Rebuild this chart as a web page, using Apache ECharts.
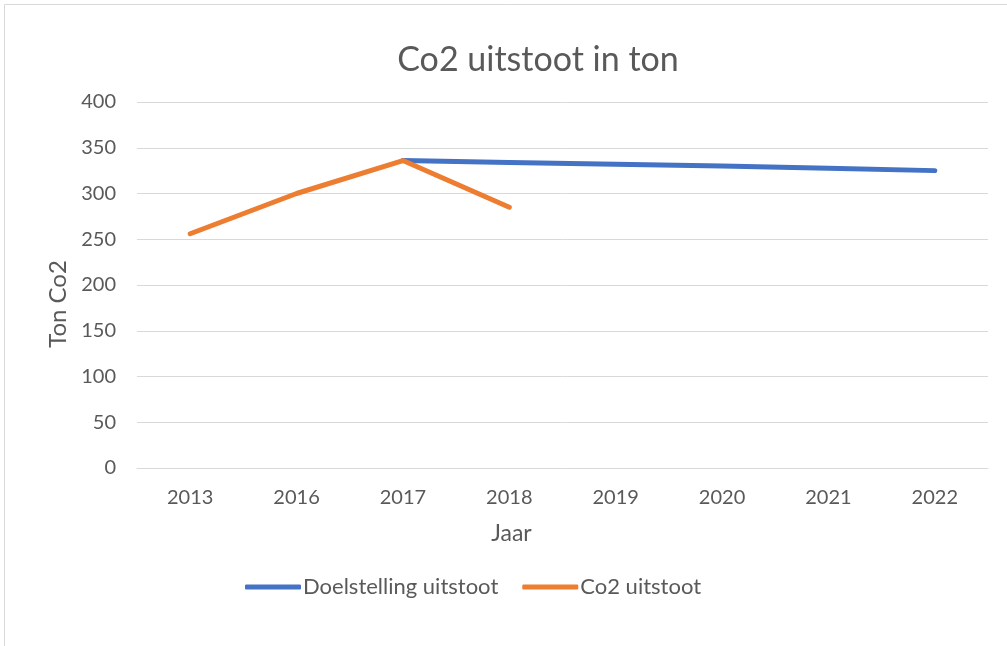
<!DOCTYPE html>
<html>
<head>
<meta charset="utf-8">
<script src="https://cdn.jsdelivr.net/npm/echarts@6/dist/echarts.min.js"></script>
<style>
html,body{margin:0;padding:0;background:#fff;}
#c{width:1007px;height:646px;}
</style>
</head>
<body>
<div id="c"></div>
<script>
const categories = ['2013','2016','2017','2018','2019','2020','2021','2022'];
const doelstelling = [null, null, 336, 334, 332, 330, 327.5, 325];
const co2 = [256, 300, 336, 285, null, null, null, null];
const yTicks = { min: 0, max: 400, interval: 50 };

const chart = echarts.init(document.getElementById('c'), null, {renderer:'canvas'});
const font = 'Lato, "Open Sans", sans-serif';
const txt = '#595959';
chart.setOption({
  backgroundColor: '#fff',
  animation: false,
  title: {
    text: 'Co2 uitstoot in ton',
    left: 533, textAlign: 'center',
    top: 38,
    textStyle: { fontFamily: font, fontSize: 34, fontWeight: 'normal', color: txt }
  },
  graphic: [{
    type: 'rect', shape: { x: 4.5, y: 4.5, width: 1100, height: 700 },
    style: { fill: 'none', stroke: '#d9d9d9', lineWidth: 1 }, silent: true
  }],
  grid: { left: 137, right: 19, top: 102, bottom: 178 },
  legend: {
    bottom: 43,
    left: 240,
    itemWidth: 56,
    itemHeight: 5,
    itemGap: 24,
    icon: 'roundRect',
    textStyle: { fontFamily: font, fontSize: 22, color: txt, padding: [0,0,0,-3] },
    data: ['Doelstelling uitstoot', 'Co2 uitstoot']
  },
  xAxis: {
    type: 'category',
    data: categories,
    boundaryGap: true,
    axisLine: { lineStyle: { color: '#d9d9d9', width: 1 } },
    axisTick: { show: false },
    axisLabel: { fontFamily: font, fontSize: 20, color: txt, margin: 20 },
    name: 'Jaar',
    nameLocation: 'middle',
    nameGap: 54,
    nameTextStyle: { fontFamily: font, fontSize: 23, color: txt, padding: [0, 102, 0, 0] }
  },
  yAxis: {
    type: 'value',
    min: yTicks.min, max: yTicks.max, interval: yTicks.interval,
    axisLine: { show: false },
    axisTick: { show: false },
    splitLine: { lineStyle: { color: '#d9d9d9', width: 1 } },
    axisLabel: { fontFamily: font, fontSize: 20, color: txt, margin: 21 },
    name: 'Ton Co2',
    nameLocation: 'middle',
    nameGap: 66,
    nameRotate: 90,
    nameTextStyle: { fontFamily: font, fontSize: 24, color: txt, padding: [0, 38, 0, 0] }
  },
  series: [
    {
      name: 'Doelstelling uitstoot', type: 'line', data: doelstelling,
      symbol: 'none', color: '#4472C4',
      lineStyle: { width: 5, color: '#4472C4', cap: 'round', join: 'round' }
    },
    {
      name: 'Co2 uitstoot', type: 'line', data: co2,
      symbol: 'none', color: '#ED7D31',
      lineStyle: { width: 5, color: '#ED7D31', cap: 'round', join: 'round' }
    }
  ]
});
</script>
</body>
</html>
